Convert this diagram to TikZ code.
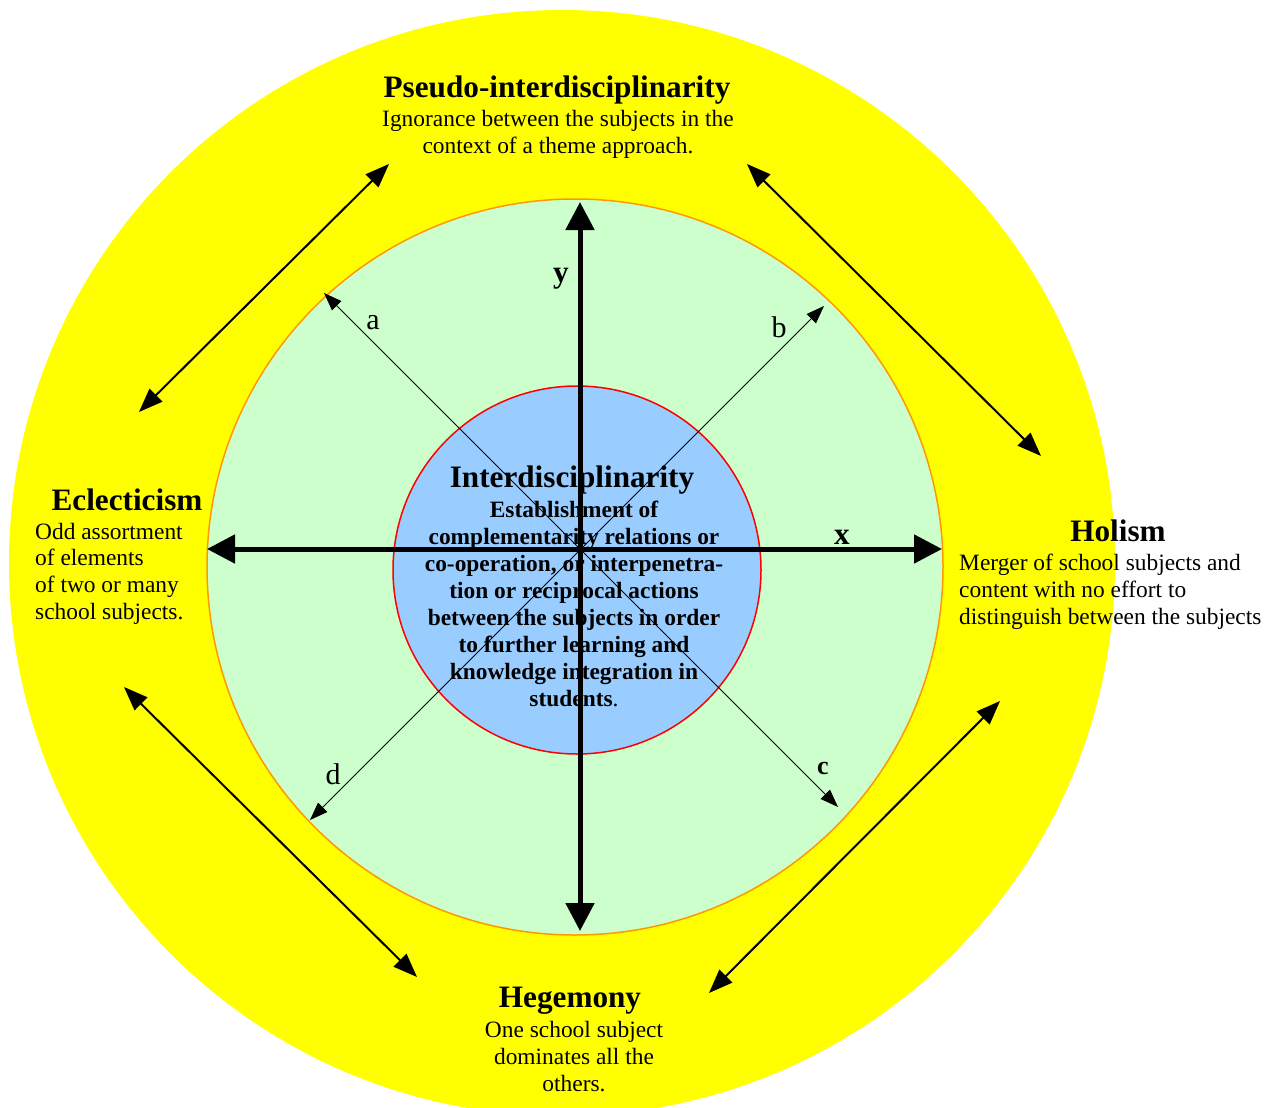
\documentclass[tikz,border=0pt]{standalone}
\usepackage{fontspec}
\setmainfont{Liberation Serif}
\usetikzlibrary{arrows.meta}
\definecolor{ringyellow}{HTML}{FFFF00}
\definecolor{ringgreen}{HTML}{CCFFCC}
\definecolor{ringorange}{HTML}{FF9900}
\definecolor{coreblue}{HTML}{99CCFF}
\definecolor{corered}{HTML}{FF0000}
\begin{document}
\begin{tikzpicture}[x=1pt,y=-1pt,
  ttl/.style={font=\fontsize{31.2}{36}\selectfont\bfseries, inner sep=0pt, anchor=base},
  bodyc/.style={font=\fontsize{23.4}{26.6}\selectfont, align=center, inner sep=0pt, anchor=base},
  bodyl/.style={font=\fontsize{23.4}{26.6}\selectfont, align=left, inner sep=0pt, anchor=base west},
  corebody/.style={font=\fontsize{23.4}{27}\selectfont\bfseries, align=center, inner sep=0pt, anchor=base},
  lbl/.style={font=\fontsize{30}{36}\selectfont, inner sep=0pt},
  axislbl/.style={font=\fontsize{31.2}{36}\selectfont\bfseries, inner sep=0pt},
  axisarrow/.style={line width=5pt, {Triangle[length=28pt,width=28pt]}-{Triangle[length=28pt,width=28pt]}},
  diagarrow/.style={line width=0.9pt, {Triangle[length=18pt,width=13pt]}-{Triangle[length=18pt,width=13pt]}},
  linkarrow/.style={line width=2pt, {Triangle[length=24pt,width=18pt]}-{Triangle[length=24pt,width=18pt]}},
]
\useasboundingbox (0,0) rectangle (1274,1108);
\clip (0,0) rectangle (1274,1108);
\fill[white] (0,0) rectangle (1274,1108);

% rings
\fill[ringyellow] (562,563) circle (553);
\filldraw[fill=ringgreen, draw=ringorange, line width=1.5pt] (575,567) circle (368);
\filldraw[fill=coreblue, draw=corered, line width=1.5pt] (577,570) circle (184);

% axis and diagonal end points
\coordinate (ytop) at (580,202);
\coordinate (ybot) at (580,931);
\coordinate (xleft) at (207,549);
\coordinate (xright) at (942,549);
\coordinate (atip) at (324,293);
\coordinate (ctip) at (838,807);
\coordinate (btip) at (824,306);
\coordinate (dtip) at (310,820);

% link arrow end points
\coordinate (tl1) at (139,412);
\coordinate (tl2) at (389,164);
\coordinate (tr1) at (747,164);
\coordinate (tr2) at (1041,456);
\coordinate (bl1) at (124,687);
\coordinate (bl2) at (417,977);
\coordinate (br1) at (1000,701);
\coordinate (br2) at (709,993);

% arrows
\draw[axisarrow] (ytop) -- (ybot);
\draw[axisarrow] (xleft) -- (xright);
\draw[diagarrow] (atip) -- (ctip);
\draw[diagarrow] (dtip) -- (btip);
\draw[linkarrow] (tl1) -- (tl2);
\draw[linkarrow] (tr1) -- (tr2);
\draw[linkarrow] (bl1) -- (bl2);
\draw[linkarrow] (br1) -- (br2);

% texts (multi-line nodes: base = baseline of last line)
\node[ttl] (pseudoT) at (557,97) {Pseudo-interdisciplinarity};
\node[bodyc] (pseudoB) at (558,153) {Ignorance between the subjects in the\\context of a theme approach.};

\node[ttl] (eclT) at (127,510) {Eclecticism};
\node[bodyl] (eclB) at (35,619) {Odd assortment\\of elements\\of two or many\\school subjects.};

\node[ttl] (holT) at (1118,541) {Holism};
\node[bodyl] (holB) at (959,624) {Merger of school subjects and\\content with no effort to\\distinguish between the subjects};

\node[ttl] (hegT) at (570,1007) {Hegemony};
\node[bodyc] (hegB) at (574,1091) {One school subject\\dominates all the\\others.};

\node[ttl] (intT) at (572,487) {Interdisciplinarity};
\node[corebody] (intB) at (574,706) {Establishment of\\complementarity relations or\\co-operation, or interpenetra-\\tion or reciprocal actions\\between the subjects in order\\to further learning and\\knowledge integration in\\students\textmd{.}};

% labels
\node[lbl] (la) at (373,323) {a};
\node[lbl] (lb) at (779,327) {b};
\node[font=\fontsize{26}{30}\selectfont\bfseries, inner sep=0pt] (lc) at (823,768) {c};
\node[lbl] (ld) at (333,774) {d};
\node[axislbl] (ly) at (561,279) {y};
\node[axislbl] (lx) at (842,537) {x};
\end{tikzpicture}
\end{document}
